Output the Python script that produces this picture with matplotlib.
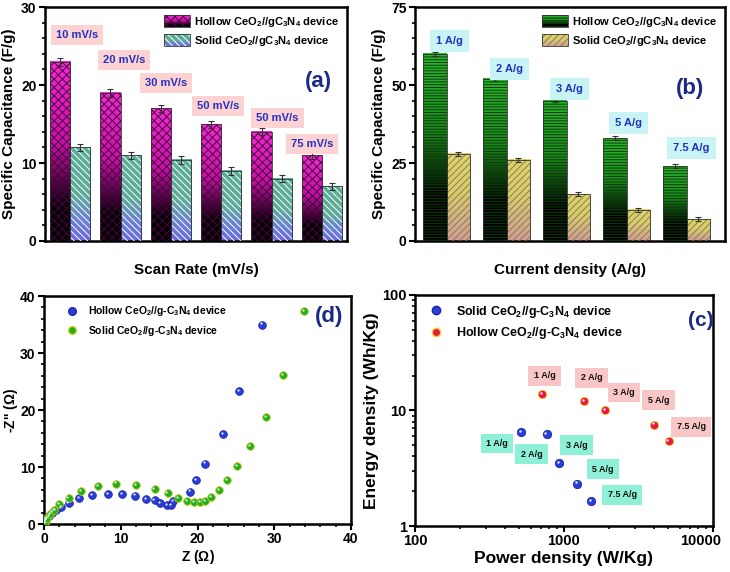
import numpy as np
import matplotlib
matplotlib.use("Agg")
import matplotlib.pyplot as plt
from matplotlib.colors import LinearSegmentedColormap
from matplotlib.patches import Rectangle
from matplotlib.lines import Line2D
from matplotlib.legend_handler import HandlerBase
from matplotlib.ticker import MultipleLocator, LogLocator, FuncFormatter, NullFormatter
import matplotlib.transforms as mtransforms

# ── Data ──────────────────────────────────────────────────────────────────────
scan_labels = ["10 mV/s", "20 mV/s", "30 mV/s", "50 mV/s", "50 mV/s", "75 mV/s"]
scan_hollow = [23, 19, 17, 15, 14, 11]
scan_solid = [12, 11, 10.4, 9, 8, 7]
scan_hollow_err = [0.5, 0.5, 0.5, 0.45, 0.45, 0.45]
scan_solid_err = [0.5, 0.45, 0.5, 0.5, 0.5, 0.45]

cd_labels = ["1 A/g", "2 A/g", "3 A/g", "5 A/g", "7.5 A/g"]
cd_hollow = [60, 52, 45, 33, 24]
cd_solid = [28, 26, 15, 10, 7]
cd_hollow_err = [0.6, 0.6, 0.6, 0.6, 0.6]
cd_solid_err = [0.6, 0.6, 0.6, 0.6, 0.6]

nyq_hollow_re = [0.1, 0.3, 0.6, 1.0, 1.5, 2.2, 3.2, 4.6, 6.3, 8.3, 10.2, 11.9,
                 13.3, 14.4, 15.1, 16.0, 16.5, 16.8, 19.0, 19.8, 21.0, 23.3, 25.4, 28.4]
nyq_hollow_im = [0.2, 0.8, 1.4, 2.0, 2.5, 3.0, 3.7, 4.5, 5.1, 5.3, 5.2, 5.0,
                 4.3, 4.2, 3.6, 3.4, 3.4, 4.0, 5.7, 7.7, 10.6, 15.8, 23.4, 35.0]
nyq_solid_re = [0.1, 0.3, 0.45, 0.8, 1.3, 2.0, 3.2, 4.8, 7.0, 9.4, 12.0, 14.4, 16.1,
                17.5, 18.6, 19.5, 20.3, 21.0, 21.8, 22.8, 23.9, 25.2, 26.8, 28.9, 31.2, 33.9]
nyq_solid_im = [0.3, 0.6, 1.0, 1.8, 2.5, 3.5, 4.6, 5.8, 6.7, 7.1, 6.9, 6.2, 5.4,
                4.6, 4.1, 3.9, 3.9, 4.1, 4.7, 5.9, 7.7, 10.1, 13.7, 18.7, 26.2, 37.3]

rag_labels = ["1 A/g", "2 A/g", "3 A/g", "5 A/g", "7.5 A/g"]
rag_solid_p = [514, 764, 922, 1230, 1515]
rag_solid_e = [6.5, 6.2, 3.5, 2.33, 1.65]
rag_hollow_p = [714, 1358, 1897, 4018, 5046]
rag_hollow_e = [13.8, 12.0, 10.1, 7.56, 5.46]
# label anchor points (power, energy)
rag_hollow_lab_p = [743, 1528, 2530, 4325, 7160]
rag_hollow_lab_e = [20.0, 19.2, 14.3, 12.3, 7.2]
rag_solid_lab_p = [356, 605, 1214, 1834, 2455]
rag_solid_lab_e = [5.17, 4.18, 5.0, 3.1, 1.87]

# ── Style ─────────────────────────────────────────────────────────────────────
plt.rcParams["font.family"] = ["Liberation Sans", "DejaVu Sans"]
plt.rcParams["font.weight"] = "bold"
plt.rcParams["mathtext.fontset"] = "custom"
plt.rcParams["mathtext.rm"] = "Liberation Sans:bold"
plt.rcParams["mathtext.bf"] = "Liberation Sans:bold"
plt.rcParams["mathtext.default"] = "bf"
plt.rcParams["hatch.linewidth"] = 0.7
plt.rcParams["axes.linewidth"] = 1.8

NAVY = "#1c2a85"
TXT_BLUE = "#2430c0"

cm_a_hol = LinearSegmentedColormap.from_list(
    "ahol", [(0, "#000000"), (0.18, "#000000"), (0.55, "#c812a8"), (1, "#f22ad0")])
cm_a_sol = LinearSegmentedColormap.from_list(
    "asol", [(0, "#6a6ae0"), (0.22, "#6a80d8"), (0.5, "#5eac98"), (1, "#5aae96")])
cm_b_hol = LinearSegmentedColormap.from_list(
    "bhol", [(0, "#000000"), (0.25, "#000000"), (0.6, "#1c8c1c"), (1, "#2cb82c")])
cm_b_sol = LinearSegmentedColormap.from_list(
    "bsol", [(0, "#d49c9c"), (0.25, "#d2b088"), (0.55, "#d8cc70"), (1, "#dcd46c")])


def grad_bar(ax, x, h, w, cmap, hatch, hatch_col):
    grad = np.linspace(0, 1, 256).reshape(-1, 1)
    ax.imshow(grad, cmap=cmap, extent=(x - w / 2, x + w / 2, 0, h),
              origin="lower", aspect="auto", zorder=2, interpolation="bilinear")
    ax.bar(x, h, w, facecolor="none", edgecolor=hatch_col, hatch=hatch,
           linewidth=0, zorder=3)
    ax.bar(x, h, w, facecolor="none", edgecolor="#333333", linewidth=0.6, zorder=4)


class GradHandler(HandlerBase):
    def __init__(self, cmap, hatch, hatch_col):
        super().__init__()
        self.cmap, self.hatch, self.hatch_col = cmap, hatch, hatch_col

    def create_artists(self, legend, orig_handle, xdescent, ydescent,
                       width, height, fontsize, trans):
        arts = []
        n = 16
        for i in range(n):
            arts.append(Rectangle((-xdescent, -ydescent + height * i / n), width,
                                  height / n * 1.05, facecolor=self.cmap((i + 0.5) / n),
                                  edgecolor="none", transform=trans))
        arts.append(Rectangle((-xdescent, -ydescent), width, height, facecolor="none",
                              edgecolor=self.hatch_col, hatch=self.hatch, linewidth=0,
                              transform=trans))
        arts.append(Rectangle((-xdescent, -ydescent), width, height, facecolor="none",
                              edgecolor="#333333", linewidth=0.6, transform=trans))
        return arts


def glossy(ax, x, y, color, edge, ms):
    ax.plot(x, y, "o", ms=ms, mfc=color, mec=edge, mew=0.6, ls="none", zorder=4)
    off = mtransforms.offset_copy(ax.transData, fig=ax.figure, x=-0.8, y=0.8, units="points")
    ax.plot(x, y, "o", ms=ms * 0.3, mfc="white", mec="none", ls="none",
            transform=off, zorder=5, alpha=0.85)


def style_ticks(ax, size):
    ax.tick_params(which="major", direction="out", length=4, width=1.5, labelsize=size,
                   pad=2)
    ax.tick_params(which="minor", direction="out", length=2.5, width=1.2)
    for lab in ax.get_xticklabels() + ax.get_yticklabels():
        lab.set_fontweight("bold")


fig = plt.figure(figsize=(7.3, 5.72), dpi=100)
ax_a = fig.add_axes([0.0616, 0.5787, 0.414, 0.409])
ax_b = fig.add_axes([0.5685, 0.5787, 0.4247, 0.409])
ax_d = fig.add_axes([0.0603, 0.0839, 0.4205, 0.3986])
ax_c = fig.add_axes([0.5685, 0.0804, 0.408, 0.404])

# ── (a) scan rate ────────────────────────────────────────────────────────────
w = 0.4
xa = np.arange(1, len(scan_hollow) + 1)
for i, x in enumerate(xa):
    grad_bar(ax_a, x - w / 2, scan_hollow[i], w, cm_a_hol, "xxxx", "#4a0040")
    grad_bar(ax_a, x + w / 2, scan_solid[i], w, cm_a_sol, "\\\\\\\\\\", "#ffffff")
ax_a.errorbar(xa - w / 2, scan_hollow, yerr=scan_hollow_err, fmt="none",
              ecolor="#333333", elinewidth=0.8, capsize=2, capthick=0.8, zorder=5)
ax_a.errorbar(xa + w / 2, scan_solid, yerr=scan_solid_err, fmt="none",
              ecolor="#333333", elinewidth=0.8, capsize=2, capthick=0.8, zorder=5)
lab_a_x = [1.13, 2.07, 2.9, 3.93, 5.12, 5.8]
lab_a_y = [26.4, 23.2, 20.3, 17.3, 15.8, 12.5]
for s, lx, ly in zip(scan_labels, lab_a_x, lab_a_y):
    ax_a.text(lx, ly, s, ha="center", va="center", fontsize=8, color=TXT_BLUE,
              fontweight="bold", zorder=6,
              bbox=dict(boxstyle="square,pad=0.45", fc="#fcd2d2", ec="none"))
ax_a.set_xlim(0.5, 6.5)
ax_a.set_ylim(0, 30)
ax_a.set_xticks([])
ax_a.yaxis.set_major_locator(MultipleLocator(10))
ax_a.yaxis.set_minor_locator(MultipleLocator(2))
ax_a.set_xlabel("Scan Rate (mV/s)", fontsize=11, fontweight="bold", labelpad=16)
ax_a.set_ylabel("Specific Capacitance (F/g)", fontsize=11, fontweight="bold", labelpad=4)
style_ticks(ax_a, 10)
h1 = Rectangle((0, 0), 1, 1)
h2 = Rectangle((0, 0), 1, 1)
ax_a.legend([h1, h2], [r"Hollow CeO$_2$//gC$_3$N$_4$ device",
                        r"Solid CeO$_2$//gC$_3$N$_4$ device"],
            handler_map={h1: GradHandler(cm_a_hol, "xxxx", "#4a0040"),
                         h2: GradHandler(cm_a_sol, "\\\\\\\\\\", "#ffffff")},
            loc="upper right", frameon=False, prop={"size": 8, "weight": "bold"},
            handlelength=2.3, handleheight=1.3, handletextpad=0.4,
            borderaxespad=0.3, labelspacing=0.45)
ax_a.text(0.906, 0.68, "(a)", transform=ax_a.transAxes, fontsize=16,
          fontweight="bold", color=NAVY, ha="center", va="center")

# ── (b) current density ─────────────────────────────────────────────────────
xb = np.arange(1, len(cd_hollow) + 1)
wb = 0.39
for i, x in enumerate(xb):
    grad_bar(ax_b, x - wb / 2, cd_hollow[i], wb, cm_b_hol, "------", "#0c3c0c")
    grad_bar(ax_b, x + wb / 2, cd_solid[i], wb, cm_b_sol, "/////", "#8a7e48")
ax_b.errorbar(xb - wb / 2, cd_hollow, yerr=cd_hollow_err, fmt="none",
              ecolor="#333333", elinewidth=0.8, capsize=2, capthick=0.8, zorder=5)
ax_b.errorbar(xb + wb / 2, cd_solid, yerr=cd_solid_err, fmt="none",
              ecolor="#333333", elinewidth=0.8, capsize=2, capthick=0.8, zorder=5)
lab_b_x = [1.05, 2.05, 3.04, 4.03, 5.08]
lab_b_y = [64, 55.2, 48.6, 37.7, 29.7]
for s, lx, ly in zip(cd_labels, lab_b_x, lab_b_y):
    ax_b.text(lx, ly, s, ha="center", va="center", fontsize=8, color=TXT_BLUE,
              fontweight="bold", zorder=6,
              bbox=dict(boxstyle="square,pad=0.55", fc="#c8f4f6", ec="none"))
ax_b.set_xlim(0.47, 5.64)
ax_b.set_ylim(0, 75)
ax_b.set_xticks([])
ax_b.yaxis.set_major_locator(MultipleLocator(25))
ax_b.yaxis.set_minor_locator(MultipleLocator(5))
ax_b.set_xlabel("Current density (A/g)", fontsize=11, fontweight="bold", labelpad=16)
ax_b.set_ylabel("Specific Capacitance (F/g)", fontsize=11, fontweight="bold", labelpad=4)
style_ticks(ax_b, 10)
g1 = Rectangle((0, 0), 1, 1)
g2 = Rectangle((0, 0), 1, 1)
ax_b.legend([g1, g2], [r"Hollow CeO$_2$//gC$_3$N$_4$ device",
                        r"Solid CeO$_2$//gC$_3$N$_4$ device"],
            handler_map={g1: GradHandler(cm_b_hol, "------", "#0c3c0c"),
                         g2: GradHandler(cm_b_sol, "/////", "#8a7e48")},
            loc="upper right", frameon=False, prop={"size": 8, "weight": "bold"},
            handlelength=2.3, handleheight=1.3, handletextpad=0.4,
            borderaxespad=0.3, labelspacing=0.45)
ax_b.text(0.887, 0.653, "(b)", transform=ax_b.transAxes, fontsize=16,
          fontweight="bold", color=NAVY, ha="center", va="center")

# ── (d) Nyquist ─────────────────────────────────────────────────────────────
BLUE = "#2a3cdc"
GREEN = "#1fb01f"
glossy(ax_d, nyq_hollow_re, nyq_hollow_im, BLUE, "#1a2aa0", 5.5)
glossy(ax_d, nyq_solid_re, nyq_solid_im, GREEN, "#c8c820", 5.5)
ax_d.set_xlim(0, 40)
ax_d.set_ylim(0, 40)
ax_d.xaxis.set_major_locator(MultipleLocator(10))
ax_d.xaxis.set_minor_locator(MultipleLocator(2))
ax_d.yaxis.set_major_locator(MultipleLocator(10))
ax_d.yaxis.set_minor_locator(MultipleLocator(2))
ax_d.set_xlabel(r"Z ($\Omega$)", fontsize=10, fontweight="bold", labelpad=1)
ax_d.set_ylabel(r"-Z'' ($\Omega$)", fontsize=10, fontweight="bold", labelpad=0)
style_ticks(ax_d, 10)
hd = [Line2D([], [], marker="o", ls="none", ms=5.5, mfc=BLUE, mec="#1a2aa0"),
      Line2D([], [], marker="o", ls="none", ms=5.5, mfc=GREEN, mec="#c8c820")]
ax_d.legend(hd, [r"Hollow CeO$_2$//g-C$_3$N$_4$ device",
                 r"Solid CeO$_2$//g-C$_3$N$_4$ device"],
            loc="upper left", frameon=False, prop={"size": 7.5, "weight": "bold"},
            handletextpad=0.5, borderaxespad=0.4, labelspacing=0.5,
            bbox_to_anchor=(0.03, 1.0))
ax_d.text(0.927, 0.909, "(d)", transform=ax_d.transAxes, fontsize=16,
          fontweight="bold", color=NAVY, ha="center", va="center")

# ── (c) Ragone ──────────────────────────────────────────────────────────────
RED = "#e8174a"
glossy(ax_c, rag_solid_p, rag_solid_e, BLUE, "#1a2aa0", 6)
glossy(ax_c, rag_hollow_p, rag_hollow_e, RED, "#f0d020", 6)
for s, lx, ly in zip(rag_labels, rag_hollow_lab_p, rag_hollow_lab_e):
    ax_c.text(lx, ly, s, ha="center", va="center", fontsize=6.5, color="#111111",
              fontweight="bold", zorder=6,
              bbox=dict(boxstyle="square,pad=0.6", fc="#f8c6c6", ec="none"))
for s, lx, ly in zip(rag_labels, rag_solid_lab_p, rag_solid_lab_e):
    ax_c.text(lx, ly, s, ha="center", va="center", fontsize=6.5, color="#111111",
              fontweight="bold", zorder=6,
              bbox=dict(boxstyle="square,pad=0.6", fc="#8ef0d6", ec="none"))
ax_c.set_xscale("log")
ax_c.set_yscale("log")
ax_c.set_xlim(100, 10000)
ax_c.set_ylim(1, 100)
ax_c.set_xticks([100, 1000, 10000])
ax_c.set_yticks([1, 10, 100])
fmt = FuncFormatter(lambda v, p: f"{v:g}")
ax_c.xaxis.set_major_formatter(fmt)
ax_c.yaxis.set_major_formatter(fmt)
ax_c.xaxis.set_minor_formatter(NullFormatter())
ax_c.yaxis.set_minor_formatter(NullFormatter())
ax_c.xaxis.set_minor_locator(LogLocator(subs=np.arange(2, 10)))
ax_c.yaxis.set_minor_locator(LogLocator(subs=np.arange(2, 10)))
ax_c.set_xlabel("Power density (W/Kg)", fontsize=12.5, fontweight="bold", labelpad=2)
ax_c.set_ylabel("Energy density (Wh/Kg)", fontsize=12.5, fontweight="bold", labelpad=2)
style_ticks(ax_c, 10.5)
# the last power tick label sits a little left of its tick, as in the figure
last = ax_c.xaxis.get_major_ticks()[-1].label1
last.set_transform(last.get_transform()
                   + mtransforms.ScaledTranslation(-9 / 72, 0, fig.dpi_scale_trans))
hc = [Line2D([], [], marker="o", ls="none", ms=6, mfc=BLUE, mec="#1a2aa0"),
      Line2D([], [], marker="o", ls="none", ms=6, mfc=RED, mec="#f0d020")]
ax_c.legend(hc, [r"Solid CeO$_2$//g-C$_3$N$_4$ device",
                 r"Hollow CeO$_2$//g-C$_3$N$_4$ device"],
            loc="upper left", frameon=False, prop={"size": 9, "weight": "bold"},
            handletextpad=0.6, borderaxespad=0.3, labelspacing=0.45)
ax_c.text(0.959, 0.89, "(c)", transform=ax_c.transAxes, fontsize=15,
          fontweight="bold", color=NAVY, ha="center", va="center")

fig.savefig("out.png", dpi=100)
